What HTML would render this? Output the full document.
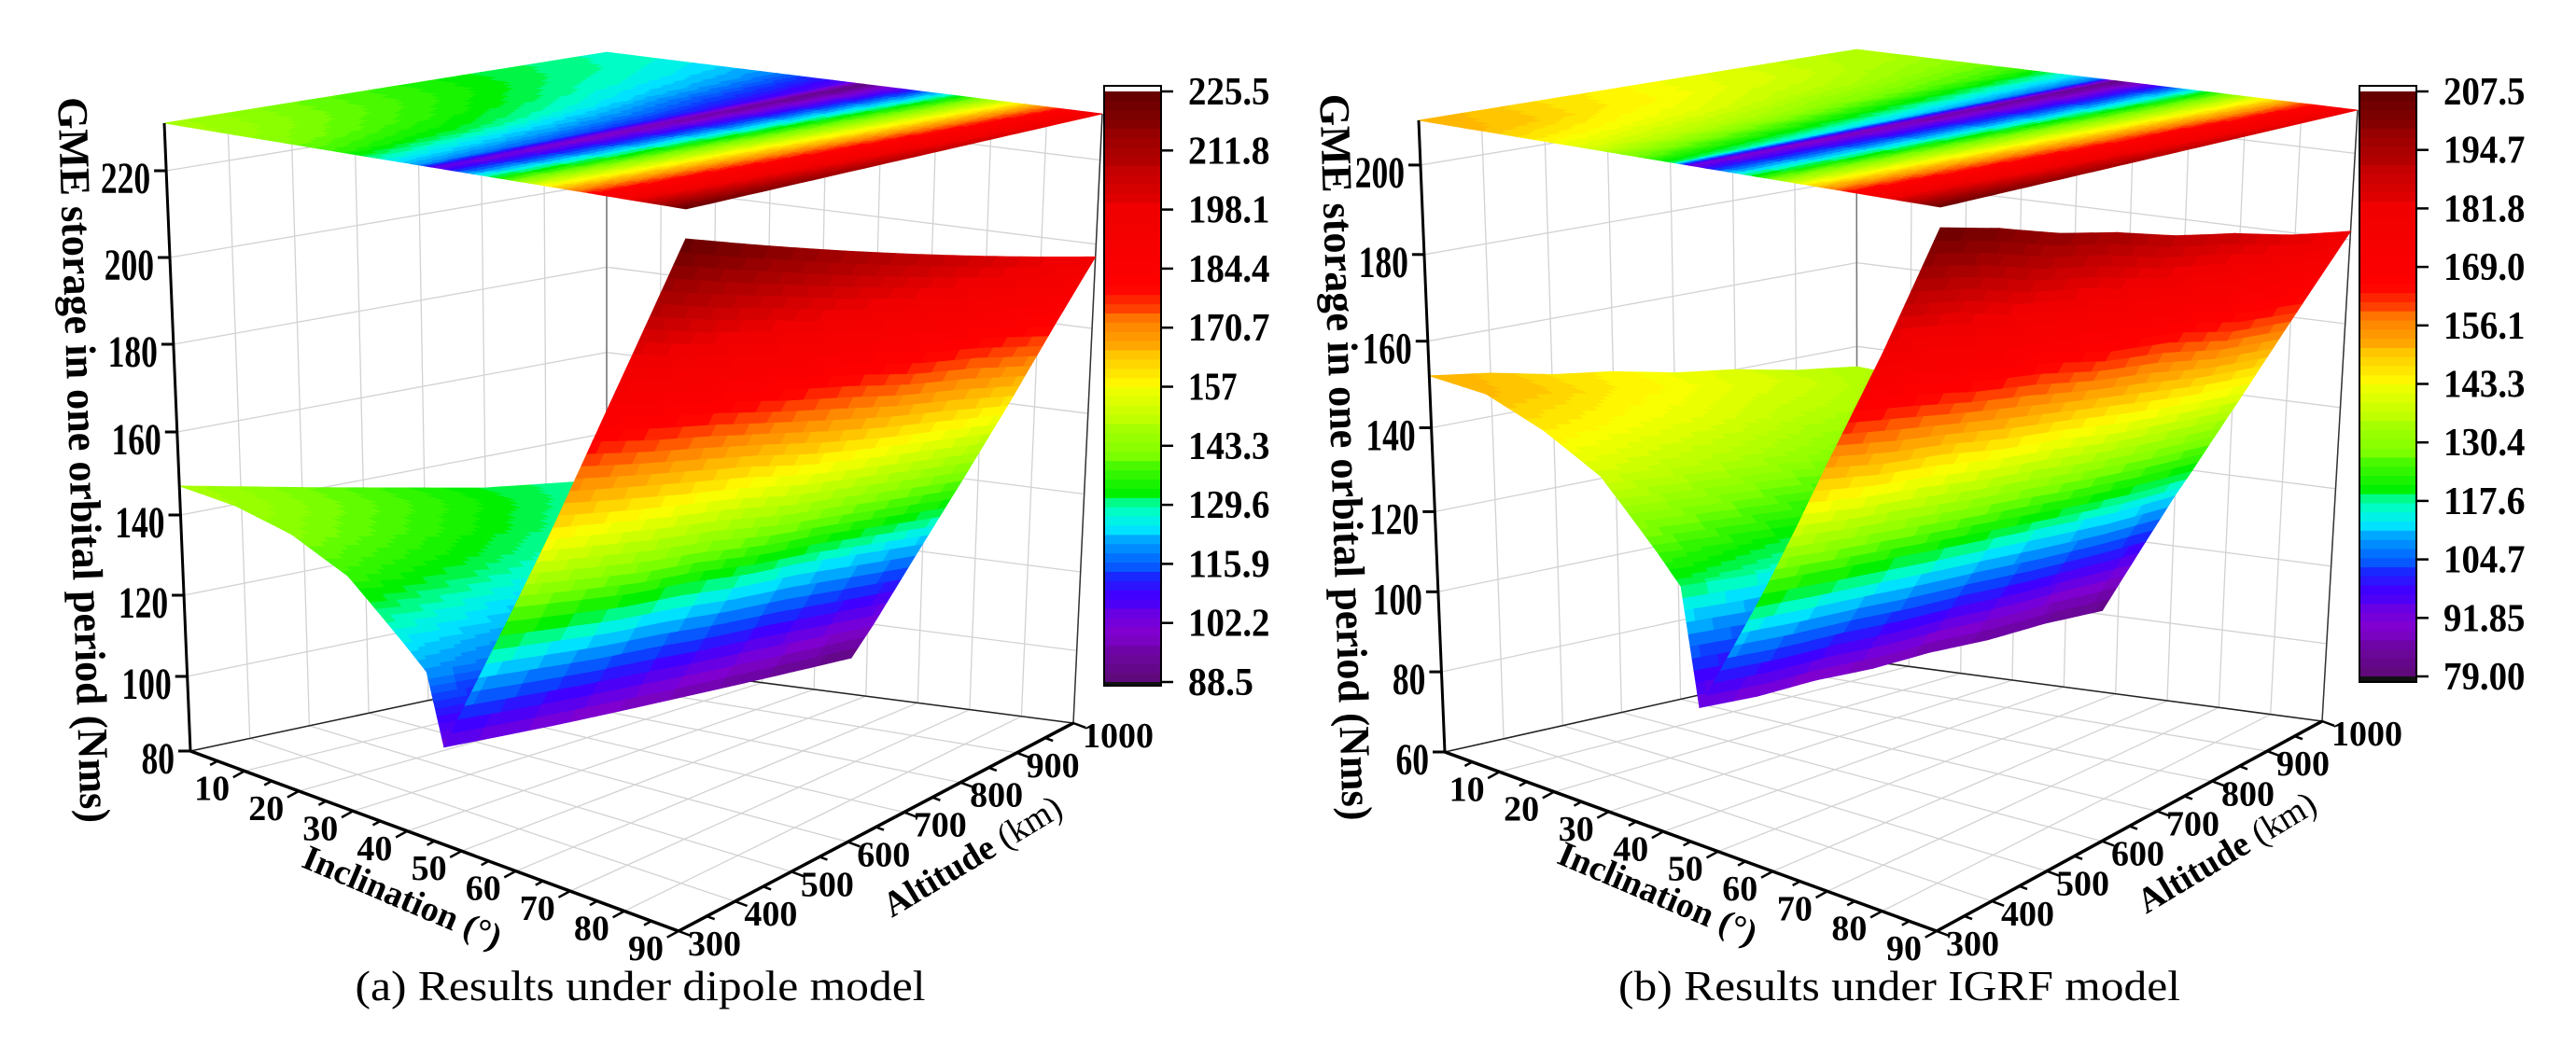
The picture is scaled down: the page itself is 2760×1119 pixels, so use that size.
<!DOCTYPE html>
<html><head><meta charset="utf-8"><style>
html,body{margin:0;padding:0;background:#fff;}
svg{display:block;}
text{font-family:"Liberation Serif",serif;}
</style></head><body>
<svg id="fig" xmlns="http://www.w3.org/2000/svg" width="2760" height="1119" viewBox="0 0 2760 1119"></svg>
<script>
// ---- data ----
const incCats = [0,10,20,30,40,44,47,60,70,80,90];
const altCats = [300,400,500,600,700,800,900,1000];
// rows = altitude, cols = inclination
const dipoleVals = [
 [147,146,143,137,125,120,104,141,169,197,225],
 [144,143,140,134,123,118,102,138,166,193,221],
 [141,140,137,132,121,116,100,135,163,190,217],
 [138,137,134,129,119,114,98,133,160,186,213],
 [135,134,131,126,117,112,96,130,156,183,209],
 [132,131,128,123,114,110,94,128,153,179,205],
 [130,129,126,121,112,108,92,125,150,176,201],
 [128,127,124,119,110,106,90,122,147,172,197]
];
const igrfVals = [
 [152,151,146,139,125,119,92,126,153,179,206],
 [150,149,144,137,123,117,90,124,150,177,203],
 [147,146,142,135,121,115,89,122,148,173,199],
 [145,144,140,133,119,113,87,120,145,171,196],
 [142,141,137,130,117,111,86,118,143,167,192],
 [140,139,135,128,115,109,84,116,140,165,189],
 [137,136,132,126,113,107,83,114,138,161,185],
 [135,134,130,124,112,106,81,113,136,159,182]
];
const incTicks = [10,20,30,40,50,60,70,80,90];
const altTicks = [300,400,500,600,700,800,900,1000];
const dipoleZTicks = [80,100,120,140,160,180,200,220];
const igrfZTicks = [60,80,100,120,140,160,180,200];
const dipoleCbarLabels = ["225.5","211.8","198.1","184.4","170.7","157","143.3","129.6","115.9","102.2","88.5"];
const igrfCbarLabels = ["207.5","194.7","181.8","169.0","156.1","143.3","130.4","117.6","104.7","91.85","79.00"];
const dipoleRange = [88.5,225.5];
const igrfRange = [79,207.5];

// ---- layout (pixel geometry) ----
const panels = [
 {key:'dipole', vals:dipoleVals, zt:dipoleZTicks, zy:[805,725,638,552,463,369,276,183], range:dipoleRange, cbl:dipoleCbarLabels,
  F:{a:[204,805],b:[727,998],c:[1150,775],d:[650,710]}, T:{a:[176,132],b:[735,224],c:[1181,122],d:[650,56]},
  cb:{x:1183,y:92,w:61,h:643,t0:98,t1:731,lx:1273}, ytitle:[90,493,778], inct:[431,962], altt:[1042,918],
  cap:[686,1072,611,"(a) Results under dipole model"]},
 {key:'igrf', vals:igrfVals, zt:igrfZTicks, zy:[807,721,635,549,459,366,273,177], range:igrfRange, cbl:igrfCbarLabels,
  F:{a:[1548,806],b:[2075,998],c:[2488,773],d:[1990,707]}, T:{a:[1520,129],b:[2079,222],c:[2526,118],d:[1989,53]},
  cb:{x:2528,y:92,w:61,h:639,t0:98,t1:725,lx:2618}, ytitle:[1442,490,779], inct:[1776,958], altt:[2386,914],
  cap:[2035,1072,602,"(b) Results under IGRF model"]}
];

const svg = document.getElementById('fig');
const NS = 'http://www.w3.org/2000/svg';
function mk(tag, attrs, parent){ const e=document.createElementNS(NS,tag); for(const k in attrs) e.setAttribute(k,attrs[k]); (parent||svg).appendChild(e); return e; }

const cstops = [[0,[90,10,110]],[0.09,[128,0,210]],[0.15,[64,0,255]],[0.18,[16,48,255]],[0.22,[0,128,255]],[0.265,[0,232,255]],[0.29,[0,255,192]],[0.325,[0,240,0]],[0.39,[128,255,0]],[0.45,[192,255,0]],[0.505,[255,255,0]],[0.555,[255,192,0]],[0.607,[255,128,0]],[0.645,[255,48,0]],[0.665,[255,0,0]],[0.8,[240,0,0]],[0.89,[176,0,0]],[1,[96,0,0]]];
function cmap(f){
  f = Math.max(0,Math.min(1,f)); f = Math.round(f*80)/80;
  for(let i=1;i<cstops.length;i++){ if(f<=cstops[i][0]){ const a=cstops[i-1],b=cstops[i]; const t=(f-a[0])/(b[0]-a[0]);
    const c=a[1].map((v,k)=>Math.round(v+(b[1][k]-v)*t)); return 'rgb('+c.join(',')+')'; } }
  return 'rgb(96,0,0)';
}

panels.forEach(P=>{
  const g = mk('g',{});
  
  
  const y0=P.zy[0], yT=P.T.a[1];
  function wOf(z){
    const zs=P.zt, ys=P.zy; let i=0;
    while(i<zs.length-2 && z>zs[i+1]) i++;
    const y = ys[i] + (z-zs[i])*(ys[i+1]-ys[i])/(zs[i+1]-zs[i]);
    return (y0-y)/(y0-yT);
  }
  function bil(Q,u,v,k){ return Q.a[k]*(1-u)*(1-v)+Q.b[k]*u*(1-v)+Q.c[k]*u*v+Q.d[k]*(1-u)*v; }
  function projW(inc,alt,w){ const u=inc/90, v=(alt-300)/700;
    return [bil(P.F,u,v,0)*(1-w)+bil(P.T,u,v,0)*w, bil(P.F,u,v,1)*(1-w)+bil(P.T,u,v,1)*w]; }
  function proj(inc,alt,z){ return projW(inc,alt,wOf(z)); }
  const line=(p,q,st,sw,name)=>{ const l=mk('line',{x1:p[0].toFixed(1),y1:p[1].toFixed(1),x2:q[0].toFixed(1),y2:q[1].toFixed(1),stroke:st,'stroke-width':sw},g);
      return l; };
  // grids
  const gc='#d2d2d2';
  [0,10,20,30,40,50,60,70,80,90].forEach(i=>{ line(projW(i,300,0),projW(i,1000,0),gc,1.3,'floor-grid-inc'); line(projW(i,1000,0),projW(i,1000,1),gc,1.3,'wall-grid-inc'); });
  altTicks.forEach(a=>{ line(projW(0,a,0),projW(90,a,0),gc,1.3,'floor-grid-alt'); line(projW(0,a,0),projW(0,a,1),gc,1.3,'wall-grid-alt'); });
  P.zt.forEach(z=>{ line(proj(0,300,z),proj(0,1000,z),gc,1.3,'wall-grid-z'); line(proj(0,1000,z),proj(90,1000,z),gc,1.3,'wall-grid-z'); });
  line(projW(0,300,0),projW(0,1000,0),'#222',1.5,'floor-edge-back-left');
  line(projW(0,1000,0),projW(90,1000,0),'#222',1.5,'floor-edge-back-right');
  line(projW(0,1000,0),projW(0,1000,1),'#777',1.5,'box-edge-back');
  line(projW(90,1000,0),projW(90,1000,1),'#333',1.5,'box-edge-right');
  // surface quads
  const quads=[];
  const ns=10, ms=7, V=P.vals;
  for(let j=0;j<altCats.length-1;j++) for(let i=0;i<incCats.length-1;i++){
    for(let a=0;a<ms;a++) for(let b=0;b<ns;b++){
      const pt=(s,t)=>{ const inc=incCats[i]+(incCats[i+1]-incCats[i])*s, alt=altCats[j]+(altCats[j+1]-altCats[j])*t;
        const val=V[j][i]*(1-s)*(1-t)+V[j][i+1]*s*(1-t)+V[j+1][i+1]*s*t+V[j+1][i]*(1-s)*t; return [inc,alt,val]; };
      const s0=b/ns,s1=(b+1)/ns,t0=a/ms,t1=(a+1)/ms;
      const c=[pt(s0,t0),pt(s1,t0),pt(s1,t1),pt(s0,t1)];
      const avg=(c[0][2]+c[1][2]+c[2][2]+c[3][2])/4;
      const cinc=(c[0][0]+c[2][0])/2, calt=(c[0][1]+c[2][1])/2;
      quads.push({c,avg,depth:(1-cinc/90)+(calt-300)/700});
    }
  }
  const rng=P.range;
  const topG=mk('g',{},g);
  
  
  quads.forEach(q=>{ const col=cmap((q.avg-rng[0])/(rng[1]-rng[0]));
    const pts=q.c.map(p=>projW(p[0],p[1],1).map(n=>n.toFixed(1)).join(',')).join(' ');
    const e=mk('polygon',{points:pts,fill:col,stroke:col,'stroke-width':0.8},topG);
      });
  const surfG=mk('g',{},g);
  
  
  quads.slice().sort((x,y)=>y.depth-x.depth).forEach(q=>{ const col=cmap((q.avg-rng[0])/(rng[1]-rng[0]));
    const pts=q.c.map(p=>proj(p[0],p[1],p[2]).map(n=>n.toFixed(1)).join(',')).join(' ');
    const e=mk('polygon',{points:pts,fill:col,stroke:col,'stroke-width':0.8},surfG);
      });
  // axes
  line(projW(0,300,0),projW(0,300,1),'#000',3,'z-axis-line');
  line(projW(0,300,0),projW(90,300,0),'#000',3.5,'inclination-axis-line');
  line(projW(90,300,0),projW(90,1000,0),'#000',3.5,'altitude-axis-line');
  const txt=(x,y,s,attrs,name)=>{ const t=mk('text',Object.assign({x:x.toFixed(1),y:y.toFixed(1)},attrs),g); t.textContent=s;
      return t; };
  // z ticks
  P.zt.forEach(z=>{ const p=proj(0,300,z); line([p[0]-13,p[1]],p,'#000',3,'z-tick');
    const t=txt(0,0,String(z),{'font-size':48,'font-weight':'bold','text-anchor':'end',transform:`translate(${(p[0]-17).toFixed(1)},${(p[1]+24).toFixed(1)}) scale(0.74,1)`},'z-tick-label'); t.setAttribute('x',0); t.setAttribute('y',0); });
  // inc ticks
  for(let i=5;i<=90;i+=5){ const p=projW(i,300,0), maj=i%10===0; const L=maj?14:9;
    line(p,[p[0]-L*0.88,p[1]+L*0.48],'#000',2.5,'inclination-tick'); }
  incTicks.forEach(i=>{ const p=projW(i,300,0); txt(p[0]-35,p[1]+31,String(i),{'font-size':38,'font-weight':'bold','text-anchor':'middle'},'inclination-tick-label'); });
  // alt ticks
  for(let a=300;a<=1000;a+=50){ const p=projW(90,a,0), maj=a%100===0; const L=maj?14:9;
    line(p,[p[0]+L*0.94,p[1]+L*0.35],'#000',2.5,'altitude-tick'); }
  altTicks.forEach(a=>{ const p=projW(90,a,0); txt(p[0]+10,p[1]+26,String(a),{'font-size':38,'font-weight':'bold','text-anchor':'start'},'altitude-tick-label'); });
  // titles
  txt(0,0,'GME storage in one orbital period (Nms)',{'font-size':46,'font-weight':'bold','text-anchor':'middle','dominant-baseline':'central',textLength:P.ytitle[2],lengthAdjust:'spacingAndGlyphs',transform:`translate(${P.ytitle[0]},${P.ytitle[1]}) rotate(88.2)`},'z-axis-title').setAttribute('x',0);
  const it=txt(0,0,'',{'font-size':38,'font-weight':'bold','text-anchor':'middle','dominant-baseline':'central',transform:`translate(${P.inct[0]},${P.inct[1]}) rotate(23)`},'inclination-axis-title');
  it.textContent='Inclination (°)';
  const at=txt(0,0,'',{'font-size':38,'font-weight':'bold','text-anchor':'middle','dominant-baseline':'central',transform:`translate(${P.altt[0]},${P.altt[1]}) rotate(-31)`},'altitude-axis-title');
  at.textContent='Altitude '; const ts=mk('tspan',{'font-weight':'normal'},at); ts.textContent='(km)';
  txt(P.cap[0],P.cap[1],P.cap[3],{'font-size':46,'text-anchor':'middle',textLength:P.cap[2],lengthAdjust:'spacingAndGlyphs'},'panel-caption');
  // colorbar
  const cb=P.cb, cg=mk('g',{},g);
  
  
  mk('rect',{x:cb.x,y:cb.y,width:cb.w,height:cb.h,fill:'#fff'},cg);
  const N=64, gh=(cb.t1-cb.t0)/N;
  for(let k=0;k<N;k++){ const f=(k+0.5)/N; mk('rect',{x:cb.x,y:(cb.t1-(k+1)*gh).toFixed(2),width:cb.w,height:(gh+0.6).toFixed(2),fill:cmap(f)},cg); }
  mk('rect',{x:cb.x,y:cb.t1,width:cb.w,height:cb.y+cb.h-cb.t1,fill:'#111'},cg);
  mk('rect',{x:cb.x,y:cb.y,width:cb.w,height:cb.h,fill:'none',stroke:'#000','stroke-width':2},cg);
  P.cbl.forEach((s,k)=>{ const y=cb.t0+k*(cb.t1-cb.t0)/(P.cbl.length-1);
    mk('line',{x1:cb.x+cb.w,y1:y,x2:cb.x+cb.w+13,y2:y,stroke:'#000','stroke-width':2.5},cg);
    const t=mk('text',{x:cb.lx,y:(y+14).toFixed(1),'font-size':42,'font-weight':'bold',textLength:s.length*17.5,lengthAdjust:'spacingAndGlyphs'},cg); t.textContent=s;
      });
});
</script>
</body></html>
